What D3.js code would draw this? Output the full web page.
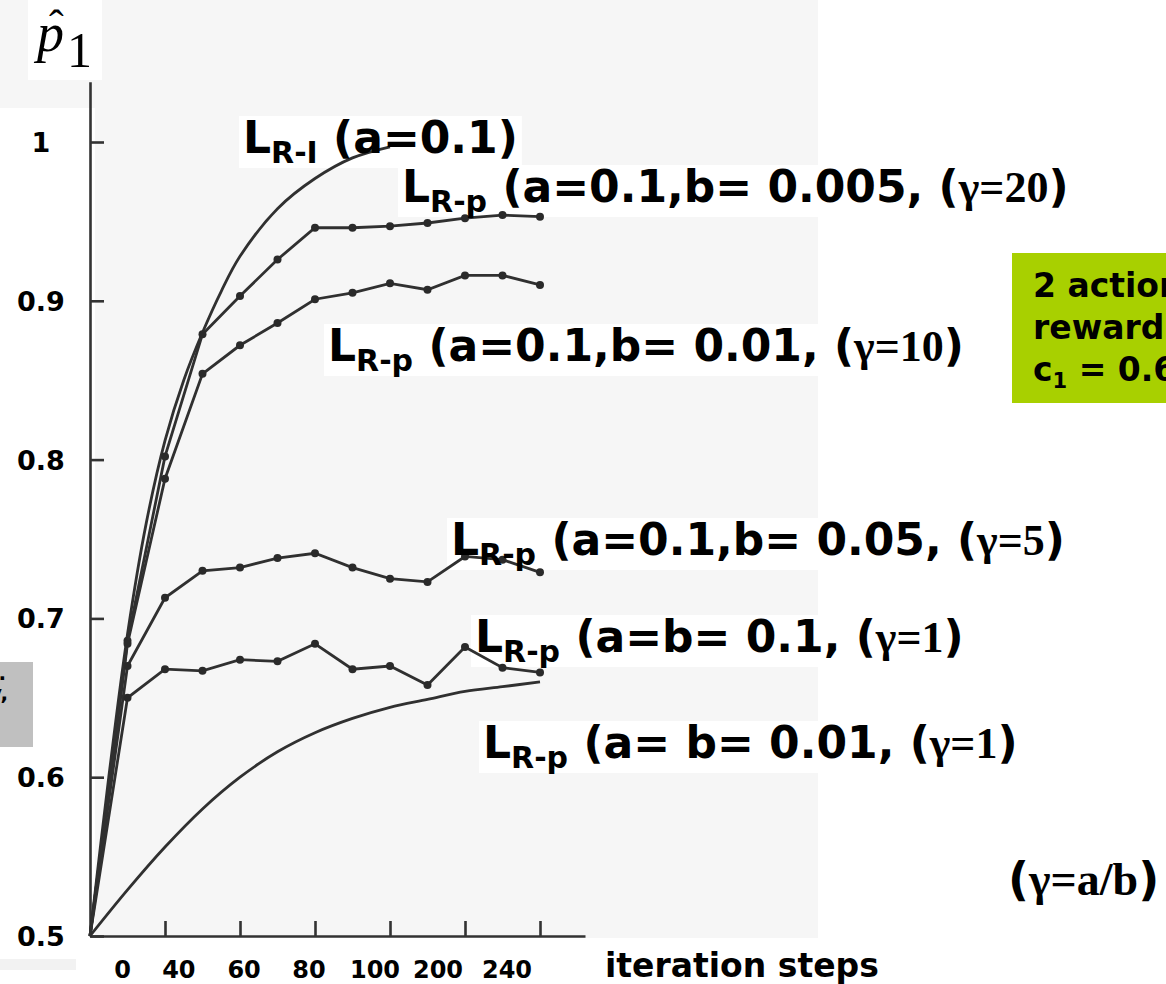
<!DOCTYPE html>
<html>
<head>
<meta charset="utf-8">
<script src="https://cdn.jsdelivr.net/npm/d3@7"></script>
<style>
	body { margin: 0; background: #fff; }
	svg { display: block; }
	.lbl { font-family: "DejaVu Sans", Verdana, sans-serif; font-weight: bold; fill: #000; }
	.ser { font-family: "Liberation Serif", "Times New Roman", serif; font-weight: bold; }
	.axis path, .axis line { stroke: #333; stroke-width: 2.6; }
	.curve { fill: none; stroke: #303030; stroke-width: 2.8; }
</style>
</head>
<body>
<div id="chart"></div>
<script>
// x = iteration step index (a marker every half tick), y = p1 estimate
var steps = [0, 1, 2, 3, 4, 5, 6, 7, 8, 9, 10, 11, 12];
var gam20 = [0.5, 0.686, 0.802, 0.879, 0.903, 0.926, 0.946, 0.946, 0.947, 0.949, 0.952, 0.954, 0.953];
var gam10 = [0.5, 0.684, 0.788, 0.854, 0.872, 0.886, 0.901, 0.905, 0.911, 0.907, 0.916, 0.916, 0.910];
var gam5  = [0.5, 0.670, 0.713, 0.730, 0.732, 0.738, 0.741, 0.732, 0.725, 0.723, 0.739, 0.737, 0.729];
var gam1  = [0.5, 0.650, 0.668, 0.667, 0.674, 0.673, 0.684, 0.668, 0.670, 0.658, 0.682, 0.669, 0.666];
// smooth curves (no markers)
var lriSteps = [0, 0.5, 1, 1.5, 2, 2.5, 3, 3.5, 4, 5, 6, 7, 8];
var lriVals  = [0.5, 0.6, 0.69, 0.76, 0.812, 0.85, 0.88, 0.906, 0.928, 0.958, 0.977, 0.99, 0.997];
var slowVals = [0.5, 0.529, 0.556, 0.580, 0.600, 0.616, 0.628, 0.637, 0.644, 0.649, 0.654, 0.657, 0.660];

var yTicks = [0.5, 0.6, 0.7, 0.8, 0.9, 1];
var yTickText = ["0.5", "0.6", "0.7", "0.8", "0.9", "1"];
var xTicks = [2, 4, 6, 8, 10, 12];
var xTickText = ["0", "40", "60", "80", "100", "200", "240"];
var xTickTextAt = [0.87, 2.37, 4.11, 5.84, 7.6, 9.28, 11.12];

var W = 1166, H = 984;

var xSc = d3.scaleLinear().domain([0, 13.2]).range([90, 585]);
var ySc = d3.scaleLinear().domain([0.5, 1]).range([936, 142]);
var yTop = 1.038;

var svg = d3.select("#chart").append("svg").attr("width", W).attr("height", H);

// scanned page background
var bg = svg.append("g");
bg.append("rect").attr("x", 95).attr("y", 0).attr("width", 723).attr("height", 938).attr("fill", "#f6f6f6");
bg.append("rect").attr("x", 0).attr("y", 0).attr("width", 95).attr("height", 108).attr("fill", "#f6f6f6");
bg.append("rect").attr("x", 28).attr("y", 0).attr("width", 74).attr("height", 80).attr("fill", "#fff");
bg.append("rect").attr("x", 0).attr("y", 959).attr("width", 76).attr("height", 11).attr("fill", "#f2f2f2");
var boxLayer = svg.append("g");

// axes
svg.append("g").attr("class", "axis")
	.attr("transform", "translate(" + xSc(0) + ",0)")
	.call(d3.axisRight(d3.scaleLinear().domain([0.5, yTop]).range([ySc(0.5), ySc(yTop)]))
		.tickValues(yTicks).tickSize(14).tickSizeOuter(0).tickFormat(""));
svg.append("g").attr("class", "axis")
	.attr("transform", "translate(0," + ySc(0.5) + ")")
	.call(d3.axisTop(xSc).tickValues(xTicks).tickSize(15).tickSizeOuter(0).tickFormat(""));

svg.selectAll(".ytl").data(yTicks).enter().append("text")
	.attr("class", "lbl ytl").attr("font-size", 27).attr("text-anchor", "middle")
	.attr("x", 41).attr("y", function(d) { return ySc(d) + 10; })
	.text(function(d, i) { return yTickText[i]; });
svg.selectAll(".xtl").data(xTickText).enter().append("text")
	.attr("class", "lbl xtl").attr("font-size", 24).attr("text-anchor", "middle")
	.attr("x", function(d, i) { return xSc(xTickTextAt[i]); }).attr("y", 978)
	.text(function(d) { return d; });
svg.append("text").attr("class", "lbl").attr("font-size", 33).attr("x", 605).attr("y", 977).text("iteration steps");

// p-hat 1
var ph = svg.append("g").attr("class", "ser").style("font-weight", "normal");
ph.append("text").attr("x", 37).attr("y", 51).attr("font-size", 54).style("font-style", "italic").text("p");
ph.append("text").attr("x", 49).attr("y", 40).attr("font-size", 44).text("ˆ");
ph.append("text").attr("x", 67).attr("y", 67).attr("font-size", 50).text("1");

// curves
var line = d3.line().x(function(d) { return xSc(d[0]); }).y(function(d) { return ySc(d[1]); });
var smooth = d3.line().curve(d3.curveCatmullRom.alpha(0.5)).x(function(d) { return xSc(d[0]); }).y(function(d) { return ySc(d[1]); });
function zip(xs, ys) { return xs.map(function(x, i) { return [x, ys[i]]; }); }

var curves = svg.append("g");
curves.append("path").attr("class", "curve").attr("d", smooth(zip(lriSteps, lriVals)));
curves.append("path").attr("class", "curve").attr("d", smooth(zip(steps, slowVals)));
[gam20, gam10, gam5, gam1].forEach(function(s) {
	var pts = zip(steps, s);
	curves.append("path").attr("class", "curve").attr("d", line(pts));
	curves.selectAll(null).data(pts.slice(1)).enter().append("circle")
		.attr("cx", function(d) { return xSc(d[0]); }).attr("cy", function(d) { return ySc(d[1]); })
		.attr("r", 4).attr("fill", "#2a2a2a");
});

// curve labels
var labs = [
	{ x: 243, y: 153, sub: "R-I", txt: " (a=0.1)", gam: null },
	{ x: 402, y: 202, sub: "R-p", txt: " (a=0.1,b= 0.005, (", gam: "γ=20" },
	{ x: 328, y: 361, sub: "R-p", txt: " (a=0.1,b= 0.01, (", gam: "γ=10" },
	{ x: 451, y: 555, sub: "R-p", txt: " (a=0.1,b= 0.05, (", gam: "γ=5" },
	{ x: 475, y: 652, sub: "R-p", txt: " (a=b= 0.1, (", gam: "γ=1" },
	{ x: 483, y: 758, sub: "R-p", txt: " (a= b= 0.01, (", gam: "γ=1" }
];
var labLayer = svg.append("g");
labs.forEach(function(l) {
	var t = labLayer.append("text").attr("class", "lbl").attr("font-size", 44).attr("x", l.x).attr("y", l.y);
	t.append("tspan").text("L");
	t.append("tspan").attr("font-size", 30).attr("dy", 10).text(l.sub);
	t.append("tspan").attr("dy", -10).text(l.txt);
	if (l.gam) {
		t.append("tspan").attr("class", "ser").text(l.gam);
		t.append("tspan").text(")");
	}
	var b = t.node().getBBox();
	boxLayer.append("rect").attr("x", b.x - 4).attr("y", b.y + 4).attr("width", b.width + 8).attr("height", b.height - 6).attr("fill", "#fff");
});

var gr = svg.append("text").attr("class", "lbl").attr("font-size", 46).attr("x", 1008).attr("y", 895);
gr.append("tspan").text("(");
gr.append("tspan").attr("class", "ser").text("γ=a/b");
gr.append("tspan").text(")");

// side notes (cut by the page edge)
svg.append("rect").attr("x", 1012).attr("y", 253).attr("width", 160).attr("height", 150).attr("fill", "#a8d000");
var note = svg.append("text").attr("class", "lbl").attr("font-size", 33);
note.append("tspan").attr("x", 1033).attr("y", 297).text("2 actions,");
note.append("tspan").attr("x", 1033).attr("y", 339).text("reward probabilities:");
note.append("tspan").attr("x", 1033).attr("y", 381).text("c");
note.append("tspan").attr("font-size", 21).attr("dy", 7).text("1");
note.append("tspan").attr("dy", -7).text(" = 0.6, c");

svg.append("rect").attr("x", 0).attr("y", 662).attr("width", 33).attr("height", 85).attr("fill", "#c0c0c0");
var side = svg.append("text").attr("class", "lbl").attr("font-size", 20).attr("text-anchor", "end");
side.append("tspan").attr("x", 6).attr("y", 680).text("x.");
side.append("tspan").attr("x", 8).attr("y", 700).text("y,");
</script>
</body>
</html>
